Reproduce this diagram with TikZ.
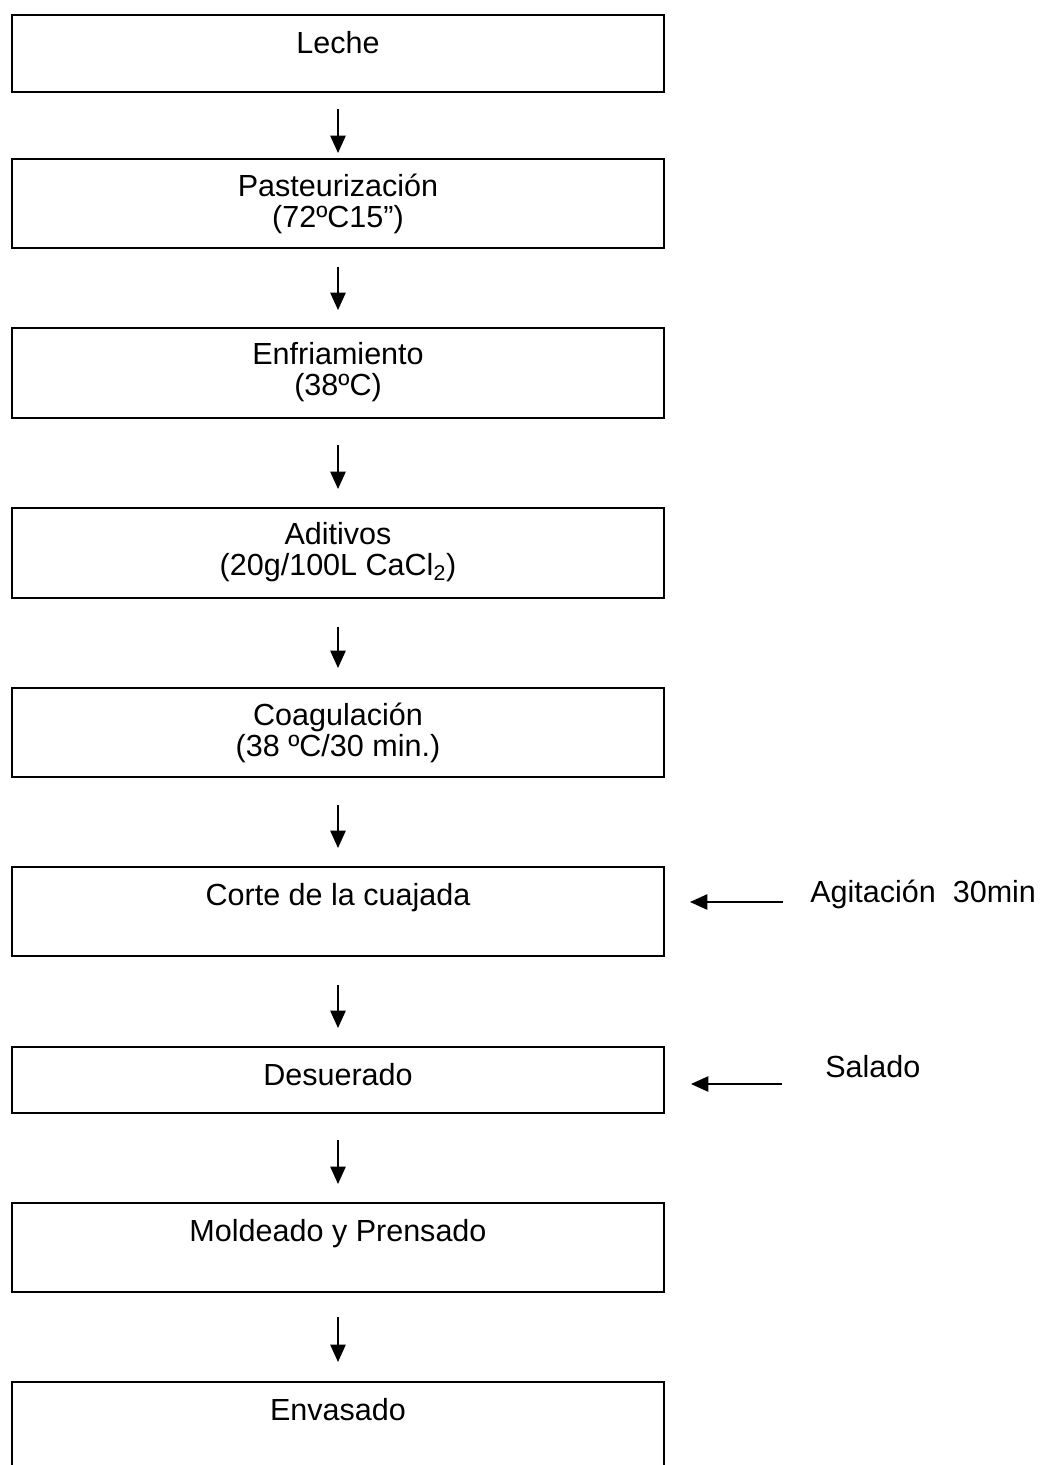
\documentclass[tikz,border=0pt]{standalone}
\usepackage{fontspec}
\setmainfont{Liberation Sans}
\usepackage{xcolor}
\usepackage{tikz}
\usetikzlibrary{arrows.meta}

\tikzset{
  stepbox/.style={draw, line width=1.5pt, anchor=north, minimum width=489pt, inner sep=0pt},
  steptext/.style={anchor=north, align=center, inner sep=0pt, yshift=-11.6pt,
    font=\fontsize{22.9pt}{23.25pt}\selectfont, execute at begin node={\rule{0pt}{18pt}}},
  sidetext/.style={anchor=base west, inner sep=0pt, font=\fontsize{22.9pt}{23.25pt}\selectfont},
  flow/.style={-{Triangle[length=13pt,width=11.5pt]}, line width=1.1pt},
}

\begin{document}
\begin{tikzpicture}[x=0.75pt, y=-0.75pt]
\useasboundingbox (0,0) rectangle (1042,1465);

\node[stepbox, minimum height=57.75pt] (leche) at (338,14) {};
\node[stepbox, minimum height=66.75pt] (pasteur) at (338,158) {};
\node[stepbox, minimum height=67.5pt] (enfri) at (338,327) {};
\node[stepbox, minimum height=67.5pt] (aditiv) at (338,507) {};
\node[stepbox, minimum height=66.75pt] (coag) at (338,687) {};
\node[stepbox, minimum height=66.75pt] (corte) at (338,866) {};
\node[stepbox, minimum height=49.5pt] (desuer) at (338,1046) {};
\node[stepbox, minimum height=66.75pt] (molde) at (338,1202) {};
\node[stepbox, minimum height=75pt] (envas) at (338,1381) {};

\node[steptext] (lechet) at (leche.north) {Leche};
\node[steptext] (pasteurt) at (pasteur.north) {Pasteurización\\(72ºC15”)};
\node[steptext] (enfrit) at (enfri.north) {Enfriamiento\\(38ºC)};
\node[steptext] (aditivt) at (aditiv.north) {Aditivos\\(20g/100L CaCl\textsubscript{2})};
\node[steptext] (coagt) at (coag.north) {Coagulación\\(38 ºC/30 min.)};
\node[steptext] (cortet) at (corte.north) {Corte de la cuajada};
\node[steptext] (desuert) at (desuer.north) {Desuerado};
\node[steptext] (moldet) at (molde.north) {Moldeado y Prensado};
\node[steptext] (envast) at (envas.north) {Envasado};

\node[sidetext] (agit) at (810,902) {Agitación\ \ 30min};
\node[sidetext] (salado) at (825,1077) {Salado};
\coordinate (saladoin) at ([yshift=-5.25pt]salado.base west);

\foreach \a/\b/\s/\e in {leche/pasteur/12/3.75, pasteur/enfri/13.5/12.75, enfri/aditiv/19.5/13.5,
  aditiv/coag/21/14.25, coag/corte/20.25/13.5, corte/desuer/21/13.5, desuer/molde/19.5/13.5,
  molde/envas/18/14.25}
  \draw[flow, shorten <=\s pt, shorten >=\e pt] (\a) -- (\b);

\draw[flow, shorten <=20.25pt, shorten >=18.75pt] (agit.base west) -- (agit.base west -| corte.east);
\draw[flow, shorten <=32.25pt, shorten >=19.5pt] (saladoin) -- (saladoin -| desuer.east);
\end{tikzpicture}
\end{document}
